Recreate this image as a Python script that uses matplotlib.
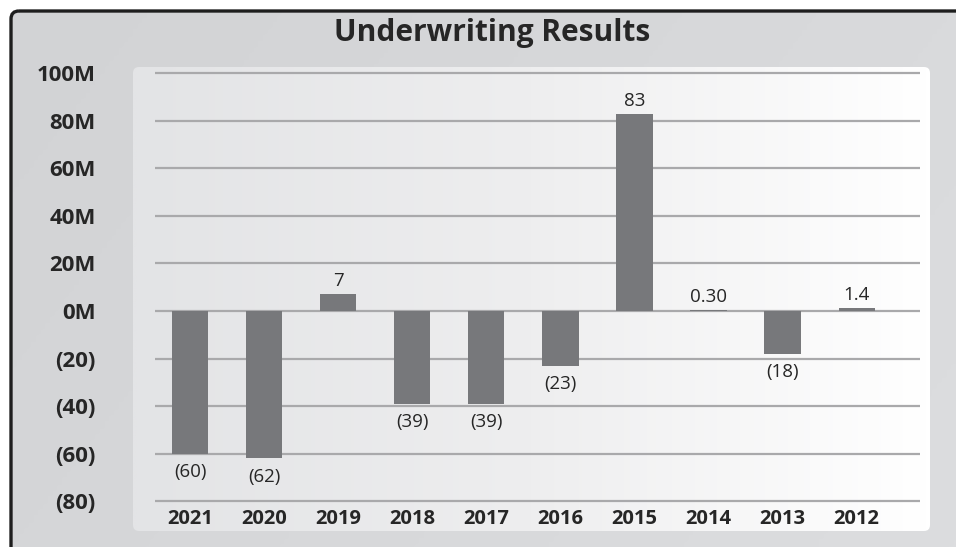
import numpy as np
import matplotlib.pyplot as plt
from matplotlib.patches import FancyBboxPatch
from matplotlib.colors import LinearSegmentedColormap

years = ["2021", "2020", "2019", "2018", "2017", "2016", "2015", "2014", "2013", "2012"]
results = [-60, -62, 7, -39, -39, -23, 83, 0.30, -18, 1.4]
value_labels = ["(60)", "(62)", "7", "(39)", "(39)", "(23)", "83", "0.30", "(18)", "1.4"]
y_ticks = [100, 80, 60, 40, 20, 0, -20, -40, -60, -80]
y_tick_labels = ["100M", "80M", "60M", "40M", "20M", "0M", "(20)", "(40)", "(60)", "(80)"]

plt.rcParams['font.family'] = ['Open Sans', 'DejaVu Sans']

W, H = 956, 547
fig = plt.figure(figsize=(W / 100, H / 100), dpi=100)

# background in pixel coordinates
bg = fig.add_axes([0, 0, 1, 1])
bg.set_xlim(0, W)
bg.set_ylim(H, 0)
bg.axis("off")
bg.set_facecolor("white")

outer = FancyBboxPatch((11, 11), 980, 580, boxstyle="round,pad=0,rounding_size=8",
                       facecolor="none", edgecolor="#1e1e1e", lw=2.4, zorder=3)
outer_clip = FancyBboxPatch((11, 11), 980, 580, boxstyle="round,pad=0,rounding_size=8",
                            facecolor="none", edgecolor="none", transform=bg.transData)
bg.add_patch(outer_clip)
cm_out = LinearSegmentedColormap.from_list("out", ["#d2d3d5", "#dcdddf"])
gx, gy = np.meshgrid(np.linspace(0, 1, 200), np.linspace(0, 1, 200))
im = bg.imshow(0.7 * gx + 0.3 * gy, cmap=cm_out, extent=(10, W, H, 10), aspect="auto", zorder=1)
im.set_clip_path(outer_clip)
bg.add_patch(outer)

inner_clip = FancyBboxPatch((133, 67), 797, 464, boxstyle="round,pad=0,rounding_size=6",
                            facecolor="none", edgecolor="none", transform=bg.transData)
bg.add_patch(inner_clip)
cm_in = LinearSegmentedColormap.from_list("in", ["#e3e4e6", "#eeeeef", "#ffffff"])
grad = np.tile(np.linspace(0, 1, 300), (10, 1))
im2 = bg.imshow(grad, cmap=cm_in, extent=(133, 930, 531, 67), aspect="auto", zorder=2)
im2.set_clip_path(inner_clip)

bg.text(492, 33, "Underwriting Results", ha="center", va="center",
        fontsize=21.5, fontweight="bold", color="#262626", zorder=4)

# main chart axes
ax = fig.add_axes([133 / W, (H - 531) / H, (930 - 133) / W, (531 - 67) / H])
ax.patch.set_visible(False)
for s in ax.spines.values():
    s.set_visible(False)
ax.set_xlim(-0.77, 9.99)
ax.set_ylim(-92.6, 102.7)

x = np.arange(len(years))
ax.hlines(y_ticks, -0.47, 9.86, color="#a9a9ab", lw=1.6, zorder=1)
ax.bar(x, results, width=0.49, color="#77787b", zorder=2)

ax.set_xticks([])
ax.set_yticks(y_ticks)
ax.set_yticklabels(y_tick_labels, fontsize=16, fontweight="bold", color="#262626")
ax.tick_params(axis="y", length=0, pad=27)

for i, v in enumerate(results):
    if v >= 0:
        ax.annotate(value_labels[i], (x[i], v), xytext=(0, 3), textcoords="offset points",
                    ha="center", va="bottom", fontsize=13.5, color="#262626")
    else:
        ax.annotate(value_labels[i], (x[i], v), xytext=(0, -7), textcoords="offset points",
                    ha="center", va="top", fontsize=13.5, color="#262626")

for i, yr in enumerate(years):
    ax.text(x[i], -87.6, yr, ha="center", va="center", fontsize=14.5,
            fontweight="bold", color="#262626")

fig.savefig("out.png", dpi=100)
